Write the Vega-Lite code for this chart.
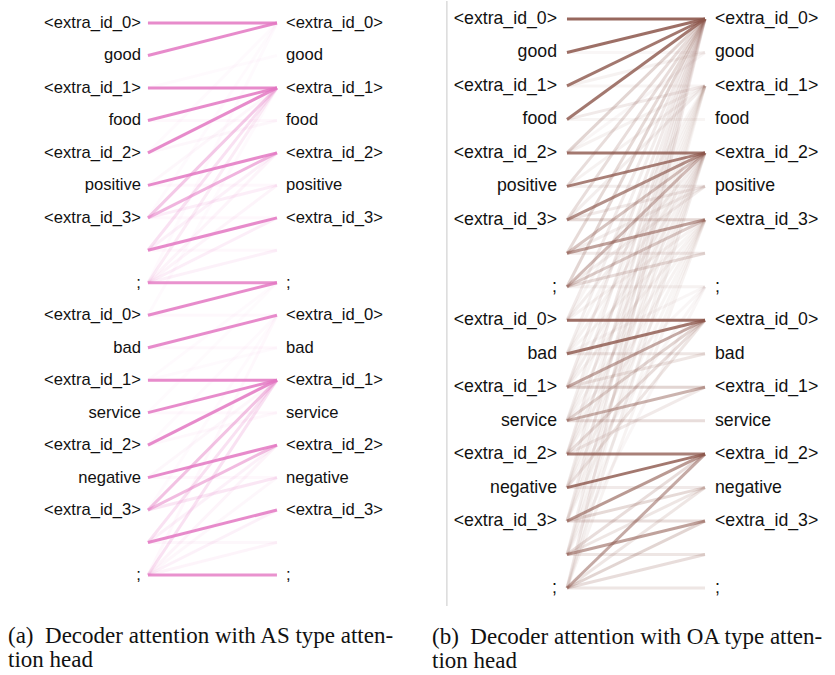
{
  "$schema": "https://vega.github.io/schema/vega-lite/v6.json",
  "padding": 0,
  "background": "white",
  "config": {"view": {"stroke": null}, "concat": {"spacing": 0}},
  "spacing": 0,
  "datasets": {
    "tokens": [
      {"i": 0, "tok": "<extra_id_0>"}, {"i": 1, "tok": "good"}, {"i": 2, "tok": "<extra_id_1>"}, {"i": 3, "tok": "food"},
      {"i": 4, "tok": "<extra_id_2>"}, {"i": 5, "tok": "positive"}, {"i": 6, "tok": "<extra_id_3>"}, {"i": 8, "tok": ";"},
      {"i": 9, "tok": "<extra_id_0>"}, {"i": 10, "tok": "bad"}, {"i": 11, "tok": "<extra_id_1>"}, {"i": 12, "tok": "service"},
      {"i": 13, "tok": "<extra_id_2>"}, {"i": 14, "tok": "negative"}, {"i": 15, "tok": "<extra_id_3>"}, {"i": 17, "tok": ";"}
    ],
    "as": [
      {"src": 2, "tgt": 1, "w": 0.04}, {"src": 3, "tgt": 3, "w": 0.05}, {"src": 4, "tgt": 3, "w": 0.06}, {"src": 5, "tgt": 5, "w": 0.05},
      {"src": 6, "tgt": 6, "w": 0.05}, {"src": 7, "tgt": 7, "w": 0.05}, {"src": 9, "tgt": 9, "w": 0.05}, {"src": 10, "tgt": 10, "w": 0.05},
      {"src": 11, "tgt": 10, "w": 0.04}, {"src": 12, "tgt": 12, "w": 0.05}, {"src": 13, "tgt": 12, "w": 0.05}, {"src": 14, "tgt": 14, "w": 0.05},
      {"src": 16, "tgt": 16, "w": 0.06}, {"src": 4, "tgt": 0, "w": 0.04}, {"src": 6, "tgt": 0, "w": 0.04}, {"src": 8, "tgt": 0, "w": 0.04},
      {"src": 13, "tgt": 9, "w": 0.04}, {"src": 15, "tgt": 9, "w": 0.04}, {"src": 17, "tgt": 9, "w": 0.05}, {"src": 9, "tgt": 2, "w": 0.04},
      {"src": 11, "tgt": 8, "w": 0.04}, {"src": 12, "tgt": 8, "w": 0.03}, {"src": 5, "tgt": 2, "w": 0.06}, {"src": 14, "tgt": 11, "w": 0.06},
      {"src": 8, "tgt": 5, "w": 0.08}, {"src": 7, "tgt": 4, "w": 0.1}, {"src": 8, "tgt": 4, "w": 0.08}, {"src": 16, "tgt": 13, "w": 0.1},
      {"src": 17, "tgt": 13, "w": 0.08}, {"src": 17, "tgt": 14, "w": 0.06}, {"src": 8, "tgt": 7, "w": 0.1}, {"src": 17, "tgt": 16, "w": 0.08},
      {"src": 6, "tgt": 5, "w": 0.12}, {"src": 8, "tgt": 2, "w": 0.14}, {"src": 8, "tgt": 6, "w": 0.12}, {"src": 7, "tgt": 2, "w": 0.22},
      {"src": 15, "tgt": 14, "w": 0.18}, {"src": 16, "tgt": 11, "w": 0.22}, {"src": 17, "tgt": 11, "w": 0.22}, {"src": 17, "tgt": 15, "w": 0.1},
      {"src": 6, "tgt": 2, "w": 0.4}, {"src": 6, "tgt": 4, "w": 0.55}, {"src": 15, "tgt": 11, "w": 0.45}, {"src": 15, "tgt": 13, "w": 0.5},
      {"src": 0, "tgt": 0, "w": 0.85}, {"src": 1, "tgt": 0, "w": 0.85}, {"src": 2, "tgt": 2, "w": 0.85}, {"src": 3, "tgt": 2, "w": 0.85},
      {"src": 4, "tgt": 2, "w": 0.85}, {"src": 5, "tgt": 4, "w": 0.85}, {"src": 7, "tgt": 6, "w": 0.85}, {"src": 8, "tgt": 8, "w": 0.8},
      {"src": 9, "tgt": 8, "w": 0.85}, {"src": 10, "tgt": 9, "w": 0.85}, {"src": 11, "tgt": 11, "w": 0.85}, {"src": 12, "tgt": 11, "w": 0.85},
      {"src": 13, "tgt": 11, "w": 0.85}, {"src": 14, "tgt": 13, "w": 0.85}, {"src": 16, "tgt": 15, "w": 0.85}, {"src": 17, "tgt": 17, "w": 0.8}
    ],
    "oa": [
      {"src": 9, "tgt": 2, "w": 0.06}, {"src": 10, "tgt": 2, "w": 0.06}, {"src": 11, "tgt": 2, "w": 0.06}, {"src": 12, "tgt": 2, "w": 0.06},
      {"src": 13, "tgt": 2, "w": 0.06}, {"src": 14, "tgt": 2, "w": 0.06}, {"src": 15, "tgt": 2, "w": 0.06}, {"src": 16, "tgt": 2, "w": 0.06},
      {"src": 17, "tgt": 2, "w": 0.06}, {"src": 9, "tgt": 6, "w": 0.07}, {"src": 10, "tgt": 6, "w": 0.06}, {"src": 11, "tgt": 6, "w": 0.07},
      {"src": 12, "tgt": 6, "w": 0.06}, {"src": 13, "tgt": 6, "w": 0.07}, {"src": 14, "tgt": 6, "w": 0.06}, {"src": 15, "tgt": 6, "w": 0.06},
      {"src": 16, "tgt": 6, "w": 0.06}, {"src": 17, "tgt": 6, "w": 0.07}, {"src": 10, "tgt": 8, "w": 0.05}, {"src": 12, "tgt": 8, "w": 0.05},
      {"src": 14, "tgt": 8, "w": 0.05}, {"src": 16, "tgt": 8, "w": 0.05}, {"src": 9, "tgt": 0, "w": 0.12}, {"src": 10, "tgt": 0, "w": 0.1},
      {"src": 11, "tgt": 0, "w": 0.12}, {"src": 12, "tgt": 0, "w": 0.1}, {"src": 13, "tgt": 0, "w": 0.12}, {"src": 14, "tgt": 0, "w": 0.1},
      {"src": 15, "tgt": 0, "w": 0.11}, {"src": 16, "tgt": 0, "w": 0.1}, {"src": 17, "tgt": 0, "w": 0.12}, {"src": 9, "tgt": 4, "w": 0.1},
      {"src": 10, "tgt": 4, "w": 0.08}, {"src": 11, "tgt": 4, "w": 0.1}, {"src": 12, "tgt": 4, "w": 0.08}, {"src": 13, "tgt": 4, "w": 0.1},
      {"src": 14, "tgt": 4, "w": 0.08}, {"src": 15, "tgt": 4, "w": 0.09}, {"src": 16, "tgt": 4, "w": 0.08}, {"src": 17, "tgt": 4, "w": 0.1},
      {"src": 1, "tgt": 1, "w": 0.05}, {"src": 4, "tgt": 1, "w": 0.05}, {"src": 2, "tgt": 1, "w": 0.08}, {"src": 2, "tgt": 2, "w": 0.06},
      {"src": 3, "tgt": 3, "w": 0.06}, {"src": 4, "tgt": 2, "w": 0.08}, {"src": 5, "tgt": 2, "w": 0.08}, {"src": 6, "tgt": 2, "w": 0.1},
      {"src": 5, "tgt": 5, "w": 0.1}, {"src": 7, "tgt": 7, "w": 0.12}, {"src": 8, "tgt": 8, "w": 0.08}, {"src": 3, "tgt": 2, "w": 0.12},
      {"src": 6, "tgt": 5, "w": 0.12}, {"src": 7, "tgt": 5, "w": 0.1}, {"src": 8, "tgt": 5, "w": 0.1}, {"src": 8, "tgt": 7, "w": 0.2},
      {"src": 6, "tgt": 6, "w": 0.22}, {"src": 6, "tgt": 0, "w": 0.2}, {"src": 5, "tgt": 0, "w": 0.2}, {"src": 4, "tgt": 0, "w": 0.25},
      {"src": 7, "tgt": 0, "w": 0.22}, {"src": 8, "tgt": 0, "w": 0.25}, {"src": 8, "tgt": 6, "w": 0.3}, {"src": 7, "tgt": 4, "w": 0.35},
      {"src": 8, "tgt": 4, "w": 0.4},
      {"src": 10, "tgt": 10, "w": 0.15}, {"src": 11, "tgt": 10, "w": 0.15}, {"src": 14, "tgt": 14, "w": 0.12}, {"src": 13, "tgt": 11, "w": 0.12},
      {"src": 14, "tgt": 9, "w": 0.15}, {"src": 13, "tgt": 9, "w": 0.2}, {"src": 16, "tgt": 14, "w": 0.15}, {"src": 16, "tgt": 16, "w": 0.15},
      {"src": 17, "tgt": 17, "w": 0.15}, {"src": 17, "tgt": 14, "w": 0.15}, {"src": 12, "tgt": 12, "w": 0.2}, {"src": 15, "tgt": 15, "w": 0.2},
      {"src": 16, "tgt": 13, "w": 0.2}, {"src": 17, "tgt": 16, "w": 0.2}, {"src": 15, "tgt": 14, "w": 0.22}, {"src": 11, "tgt": 11, "w": 0.25},
      {"src": 12, "tgt": 9, "w": 0.25}, {"src": 17, "tgt": 15, "w": 0.25}, {"src": 12, "tgt": 11, "w": 0.45}, {"src": 11, "tgt": 9, "w": 0.5},
      {"src": 17, "tgt": 13, "w": 0.5}, {"src": 16, "tgt": 15, "w": 0.55}, {"src": 7, "tgt": 6, "w": 0.55}, {"src": 15, "tgt": 13, "w": 0.6},
      {"src": 6, "tgt": 4, "w": 0.65}, {"src": 5, "tgt": 4, "w": 0.75}, {"src": 13, "tgt": 13, "w": 0.75}, {"src": 4, "tgt": 4, "w": 0.8},
      {"src": 2, "tgt": 0, "w": 0.8}, {"src": 3, "tgt": 0, "w": 0.8}, {"src": 10, "tgt": 9, "w": 0.8}, {"src": 14, "tgt": 13, "w": 0.8},
      {"src": 1, "tgt": 0, "w": 0.85}, {"src": 9, "tgt": 9, "w": 0.85}, {"src": 0, "tgt": 0, "w": 0.9}
    ]
  },
  "hconcat": [
    {
      "width": 420,
      "height": 605,
      "title": {
        "text": ["(a)\u00a0 Decoder attention with AS type atten-", "tion head"],
        "orient": "bottom", "anchor": "start", "frame": "group",
        "font": "Liberation Serif", "fontSize": 23, "fontWeight": "normal",
        "color": "#111", "dx": 8, "offset": 19, "lineHeight": 24
      },
      "layer": [
        {
          "data": {"name": "as"},
          "mark": {"type": "rule", "strokeWidth": 3, "color": "#e377c2"},
          "encoding": {
            "x": {"datum": 0, "type": "quantitative", "scale": {"domain": [-1.147, 2.109], "nice": false, "zero": false}, "axis": null},
            "x2": {"datum": 1},
            "y": {"field": "src", "type": "quantitative", "scale": {"domain": [-0.678, 17.955], "reverse": true, "nice": false, "zero": false}, "axis": null},
            "y2": {"field": "tgt"},
            "opacity": {"field": "w", "type": "quantitative", "scale": {"domain": [0, 1], "range": [0, 1]}, "legend": null}
          }
        },
        {
          "data": {"name": "tokens"},
          "mark": {"type": "text", "align": "right", "baseline": "middle", "dx": -7, "font": "Liberation Sans", "fontSize": 16.6, "color": "#111"},
          "encoding": {
            "x": {"datum": 0, "type": "quantitative"},
            "y": {"field": "i", "type": "quantitative"},
            "text": {"field": "tok"}
          }
        },
        {
          "data": {"name": "tokens"},
          "mark": {"type": "text", "align": "left", "baseline": "middle", "dx": 9, "font": "Liberation Sans", "fontSize": 16.6, "color": "#111"},
          "encoding": {
            "x": {"datum": 1, "type": "quantitative"},
            "y": {"field": "i", "type": "quantitative"},
            "text": {"field": "tok"}
          }
        }
      ]
    },
    {
      "width": 415,
      "height": 605,
      "title": {
        "text": ["(b)\u00a0 Decoder attention with OA type atten-", "tion head"],
        "orient": "bottom", "anchor": "start", "frame": "group",
        "font": "Liberation Serif", "fontSize": 23, "fontWeight": "normal",
        "color": "#111", "dx": 12, "offset": 19, "lineHeight": 24
      },
      "layer": [
        {
          "data": {"values": [{"a": 1}]},
          "mark": {"type": "rule", "strokeWidth": 1, "color": "#c8c8c8"},
          "encoding": {
            "x": {"datum": -0.87, "type": "quantitative", "scale": {"domain": [-1.065, 1.942], "nice": false, "zero": false}, "axis": null},
            "y": {"datum": -0.538, "type": "quantitative", "scale": {"domain": [-0.538, 17.538], "reverse": true, "nice": false, "zero": false}, "axis": null},
            "y2": {"datum": 17.538}
          }
        },
        {
          "data": {"name": "oa"},
          "mark": {"type": "rule", "strokeWidth": 3, "color": "#8c564b"},
          "encoding": {
            "x": {"datum": 0, "type": "quantitative"},
            "x2": {"datum": 1},
            "y": {"field": "src", "type": "quantitative"},
            "y2": {"field": "tgt"},
            "opacity": {"field": "w", "type": "quantitative", "scale": {"domain": [0, 1], "range": [0, 1]}, "legend": null}
          }
        },
        {
          "data": {"name": "tokens"},
          "mark": {"type": "text", "align": "right", "baseline": "middle", "dx": -10, "font": "Liberation Sans", "fontSize": 17.7, "color": "#111"},
          "encoding": {
            "x": {"datum": 0, "type": "quantitative"},
            "y": {"field": "i", "type": "quantitative"},
            "text": {"field": "tok"}
          }
        },
        {
          "data": {"name": "tokens"},
          "mark": {"type": "text", "align": "left", "baseline": "middle", "dx": 10, "font": "Liberation Sans", "fontSize": 17.7, "color": "#111"},
          "encoding": {
            "x": {"datum": 1, "type": "quantitative"},
            "y": {"field": "i", "type": "quantitative"},
            "text": {"field": "tok"}
          }
        }
      ]
    }
  ]
}
